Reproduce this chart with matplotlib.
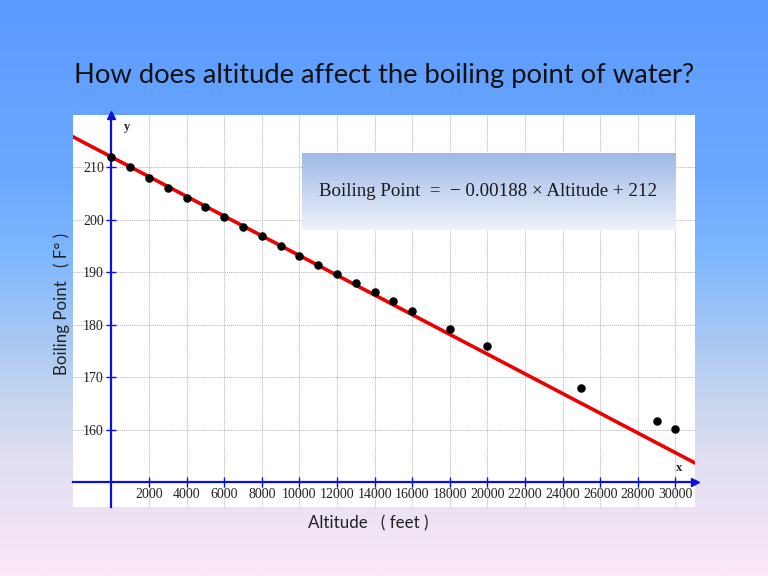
import numpy as np
import matplotlib
matplotlib.use("Agg")
import matplotlib.pyplot as plt
from matplotlib.colors import LinearSegmentedColormap

# ---- data ----
altitude = [0, 1000, 2000, 3000, 4000, 5000, 6000, 7000, 8000, 9000, 10000,
            11000, 12000, 13000, 14000, 15000, 16000, 18000, 20000, 25000,
            29000, 30000]
boiling = [212.0, 210.0, 208.0, 206.1, 204.2, 202.4, 200.5, 198.7, 196.9,
           195.0, 193.2, 191.4, 189.7, 187.95, 186.2, 184.5, 182.7, 179.2,
           176.0, 167.9, 161.6, 160.1]
slope = -0.00188
intercept = 212
x_ticks = list(range(2000, 30001, 2000))
y_ticks = [160, 170, 180, 190, 200, 210]

title = "How does altitude affect the boiling point of water?"
xlabel = "Altitude   ( feet )"
ylabel = "Boiling Point   ( F° )"
equation = "Boiling Point  =  − 0.00188 × Altitude + 212"

W, H = 768, 576
fig = plt.figure(figsize=(W / 100, H / 100), dpi=100)

# background gradient
bg = fig.add_axes([0, 0, 1, 1], zorder=-10)
stops = [(0.0, "#5c9bff"), (0.30, "#6aa8ff"), (0.45, "#80b8ff"),
         (0.59, "#a8c8f2"), (0.70, "#c8d6ee"), (0.80, "#e0def2"),
         (1.0, "#fbe8f8")]
cmap = LinearSegmentedColormap.from_list("bg", stops)
grad = np.linspace(0, 1, 400).reshape(-1, 1)
bg.imshow(grad, aspect="auto", cmap=cmap, extent=[0, 1, 1, 0])
bg.set_xlim(0, 1); bg.set_ylim(1, 0)
bg.axis("off")

# main axes (pixel geometry)
L, R, T, B = 73.3, 695, 115, 506.7
ax = fig.add_axes([L / W, 1 - B / H, (R - L) / W, (B - T) / H])
ax.set_facecolor("white")
ax.set_xlim(-2027, 31043)
ax.set_ylim(145.3, 220)

blue = "#0a10e0"
for s in ["top", "right"]:
    ax.spines[s].set_visible(False)
ax.spines["left"].set_position(("data", 0))
ax.spines["bottom"].set_position(("data", 150))
for s in ["left", "bottom"]:
    ax.spines[s].set_color(blue)
    ax.spines[s].set_linewidth(1.6)
    ax.spines[s].set_zorder(3)

ax.set_xticks(x_ticks)
ax.set_yticks(y_ticks)
ax.tick_params(axis="both", direction="inout", length=7, width=1.0,
               color=blue, labelsize=10, labelcolor="#222222")
ax.tick_params(axis="x", pad=0.8)
ax.tick_params(axis="y", pad=2)
for lab in ax.get_xticklabels() + ax.get_yticklabels():
    lab.set_fontfamily("Liberation Serif")

ax.grid(True, color="#b4b4b4", linestyle=(0, (1, 1)), linewidth=0.7, zorder=0)
ax.set_axisbelow(True)

# arrow heads
ax.plot(1, 150, marker=">", color=blue, markersize=6, transform=ax.get_yaxis_transform(),
        clip_on=False, zorder=4)
ax.plot(0, 1, marker="^", color=blue, markersize=6, transform=ax.get_xaxis_transform(),
        clip_on=False, zorder=4)
ax.text(0.975, 151.5, "x", transform=ax.get_yaxis_transform(), fontfamily="Liberation Serif",
        fontweight="bold", fontsize=9, ha="center", va="bottom", color="#222222")
ax.text(650, 0.985, "y", transform=ax.get_xaxis_transform(), fontfamily="Liberation Serif",
        fontweight="bold", fontsize=9, ha="left", va="top", color="#222222")

# regression line
xl = np.array(ax.get_xlim())
ax.plot(xl, slope * xl + intercept, color="#ee0000", linewidth=2.6, zorder=5, clip_on=True)

# data points
ax.scatter(altitude, boiling, s=26, color="black", zorder=6)

# equation box (gradient)
box_l, box_r, box_t, box_b = 301.7, 675, 153.3, 230
bax = fig.add_axes([box_l / W, 1 - box_b / H, (box_r - box_l) / W, (box_b - box_t) / H], zorder=5)
bcmap = LinearSegmentedColormap.from_list("box", ["#a0b9e7", "#c6d5f0", "#eef2fb"])
bax.imshow(grad, aspect="auto", cmap=bcmap, extent=[0, 1, 1, 0])
bax.set_xlim(0, 1); bax.set_ylim(1, 0)
bax.axis("off")
bax.text(0.5, 0.5, equation, fontfamily="Liberation Serif", fontsize=13.6,
         ha="center", va="center", color="#1a1a1a")

# titles and labels
fig.text(384.5 / W, 1 - 75 / H, title, fontfamily="Lato", fontsize=19.7,
         ha="center", va="center", color="#111111")
fig.text(368 / W, 1 - 523 / H, xlabel, fontfamily="Lato", fontsize=12.2,
         ha="center", va="center", color="#222222")
fig.text(61.7 / W, 1 - 304 / H, ylabel, fontfamily="Lato", fontsize=12.2,
         ha="center", va="center", rotation=90, color="#222222")

fig.savefig("out.png", dpi=100)
